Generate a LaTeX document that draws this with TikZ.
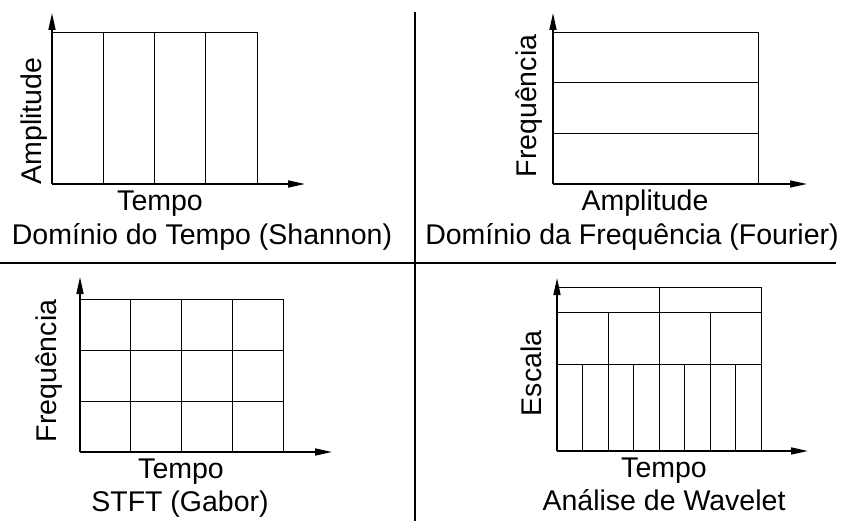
\documentclass[tikz,border=0pt]{standalone}
\usepackage{fontspec}
\setmainfont{Liberation Sans}
\usetikzlibrary{arrows.meta}
\tikzset{
  eixo/.style={line width=1.6pt,-{Triangle[length=17pt,width=7pt]}},
  grade/.style={line width=0.75pt},
  divisao/.style={line width=1.6pt},
  rotulo/.style={font=\fontsize{28.5}{34}\selectfont,inner sep=0pt,anchor=base},
}
\begin{document}
\begin{tikzpicture}[x=1pt,y=-1pt]
  \useasboundingbox (0,0) rectangle (842,521);
  % divisoes
  \draw[divisao] (415,12) -- (415,521);
  \draw[divisao] (0,263) -- (836,263);
  % Shannon
  \begin{scope}[shift={(52,184)}]
    \coordinate (o1) at (0,0);
    \foreach \x in {51,102.5,153.5,205}{
      \draw[grade] (\x,0) -- (\x,-152);
    }
    \draw[grade] (0,-152) -- (205,-152);
    \draw[eixo] (o1) -- (0,-171);
    \draw[eixo] (o1) -- (253,0);
    \node[rotulo,rotate=90] (amp1) at (-10.3,-63) {Amplitude};
    \node[rotulo] (tempo1) at (108,26.5) {Tempo};
    \node[rotulo] (tit1) at (150,60) {Domínio do Tempo (Shannon)};
  \end{scope}
  % Fourier
  \begin{scope}[shift={(553,184)}]
    \coordinate (o2) at (0,0);
    \foreach \y in {50.7,101.3,152}{
      \draw[grade] (0,-\y) -- (205,-\y);
    }
    \draw[grade] (205,0) -- (205,-152);
    \draw[eixo] (o2) -- (0,-171);
    \draw[eixo] (o2) -- (254,0);
    \node[rotulo,rotate=90] (freq2) at (-16.3,-78) {Frequência};
    \node[rotulo] (amp2) at (92,26.5) {Amplitude};
    \node[rotulo] (tit2) at (79,60) {Domínio da Frequência (Fourier)};
  \end{scope}
  % Gabor
  \begin{scope}[shift={(80,452)}]
    \coordinate (o3) at (0,0);
    \foreach \x in {50.75,101.5,152.25,203}{
      \draw[grade] (\x,0) -- (\x,-153);
    }
    \foreach \y in {51,102,153}{
      \draw[grade] (0,-\y) -- (203,-\y);
    }
    \draw[eixo] (o3) -- (0,-175);
    \draw[eixo] (o3) -- (252,0);
    \node[rotulo,rotate=90] (freq3) at (-23.3,-81) {Frequência};
    \node[rotulo] (tempo3) at (101,26.5) {Tempo};
    \node[rotulo] (tit3) at (100,59) {STFT (Gabor)};
  \end{scope}
  % Wavelet
  \begin{scope}[shift={(557,451)}]
    \coordinate (o4) at (0,0);
    \foreach \x in {25.5,51,...,204}{
      \draw[grade] (\x,0) -- (\x,-87);
    }
    \foreach \x in {51,153}{
      \draw[grade] (\x,-87) -- (\x,-139);
    }
    \foreach \x in {102,204}{
      \draw[grade] (\x,0) -- (\x,-164);
    }
    \foreach \y in {87,139,164}{
      \draw[grade] (-1.5,-\y) -- (204,-\y);
    }
    \draw[eixo] (o4) -- (0,-173);
    \draw[eixo] (o4) -- (251,0);
    \node[rotulo,rotate=90] (esc4) at (-15.3,-77.7) {Escala};
    \node[rotulo] (tempo4) at (107,26.5) {Tempo};
    \node[rotulo] (tit4) at (107,59.5) {Análise de Wavelet};
  \end{scope}
\end{tikzpicture}
\end{document}
